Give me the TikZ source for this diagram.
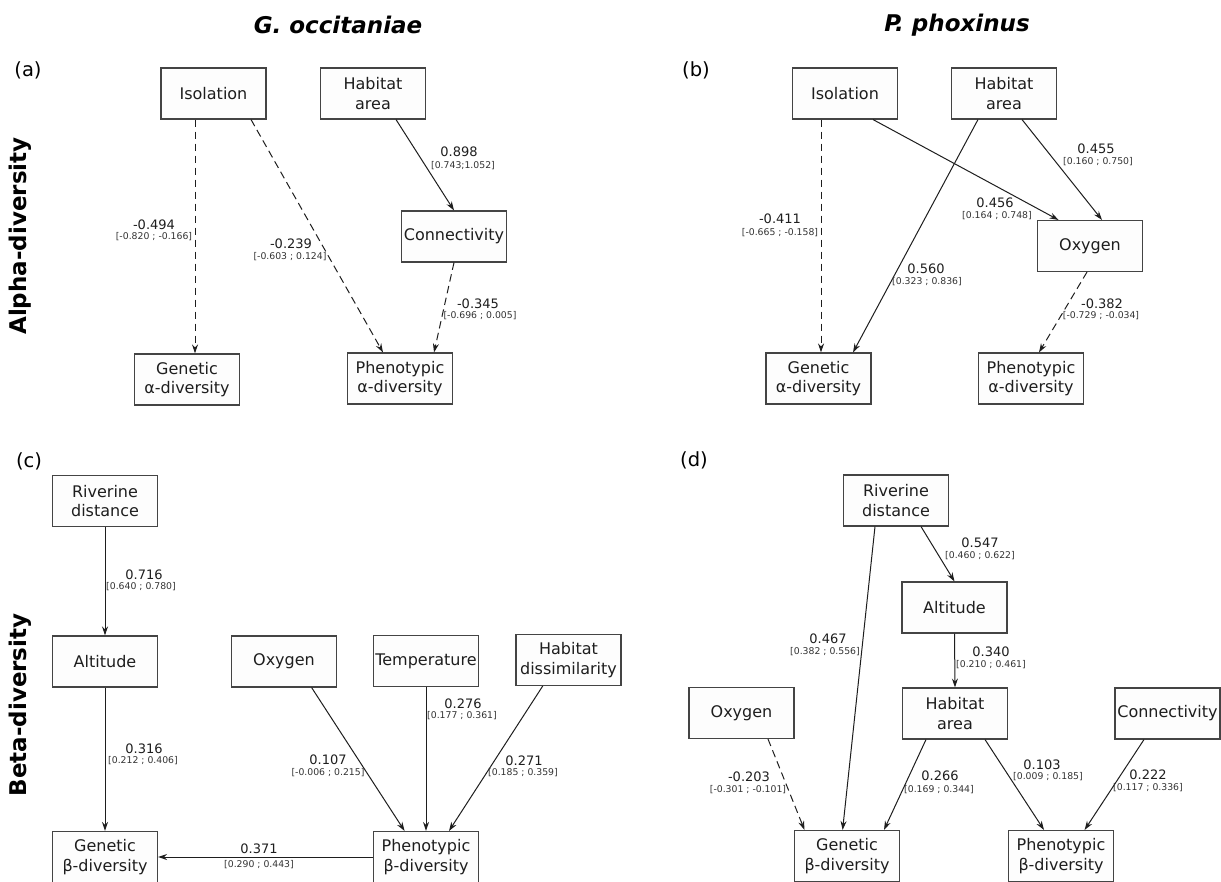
\documentclass[tikz,border=0pt]{standalone}
\usepackage{fontspec}
\setmainfont{DejaVu Sans}
\usetikzlibrary{arrows.meta}
\definecolor{ink}{HTML}{1E1E1E}
\definecolor{boxline}{HTML}{444444}
\definecolor{boxfill}{HTML}{FDFDFD}
\definecolor{cigray}{HTML}{333333}
\begin{document}
\begin{tikzpicture}[x=1pt,y=-1pt,
  box/.style={draw=boxline, line width=1.1pt, fill=boxfill, minimum width=105pt, minimum height=51pt, inner sep=0pt, align=center, font=\fontsize{16}{19.5}\selectfont, text=ink},
  coef/.style={font=\fontsize{13}{14}\selectfont, text=ink, inner sep=0pt},
  ci/.style={font=\fontsize{9.3}{10}\selectfont, text=cigray, inner sep=0pt},
  link/.style={draw=ink, line width=1pt, -{Stealth[length=9pt,width=6pt,inset=3pt]}},
  neglink/.style={link, dash pattern=on 7.5pt off 4.5pt},
  title/.style={font=\fontsize{23}{26}\selectfont\bfseries\itshape, text=black, inner sep=0pt},
  rowlab/.style={font=\fontsize{23}{26}\selectfont\bfseries, text=black, inner sep=0pt, rotate=90},
  panel/.style={font=\fontsize{19.5}{22}\selectfont, text=black, inner sep=0pt}]
\useasboundingbox (0,0) rectangle (1221,882);
\fill[white] (0,0) rectangle (1221,882);

% titles and row labels
\node[title] (t1) at (338,25) {G. occitaniae};
\node[title] (t2) at (957,25) {P. phoxinus};
\node[rowlab] (r1) at (20,236) {Alpha-diversity};
\node[rowlab] (r2) at (20,705) {Beta-diversity};
\node[panel] (pa) at (28,70) {(a)};
\node[panel] (pb) at (696,70) {(b)};
\node[panel] (pc) at (29,461) {(c)};
\node[panel] (pd) at (694,460) {(d)};

% ---------- panel (a)
\node[box] (isoA) at (213.5,93.5) {Isolation};
\node[box] (habA) at (373,93.5) {Habitat\\area};
\node[box] (conA) at (454,236.5) {Connectivity};
\node[box] (genA) at (187,379.5) {Genetic\\α-diversity};
\node[box] (phenA) at (400,378.5) {Phenotypic\\α-diversity};
\draw[neglink] ([xshift=-18.5pt]isoA.south) -- ([xshift=8pt]genA.north);
\draw[neglink] ([xshift=37.5pt]isoA.south) -- ([xshift=-17pt]phenA.north);
\draw[link] ([xshift=23pt]habA.south) -- (conA.north);
\draw[neglink] (conA.south) -- ([xshift=34pt]phenA.north);
\node[coef] (a1) at (154,225) {-0.494};
\node[ci] (a1c) at (154,237) {[-0.820 ; -0.166]};
\node[coef] (a2) at (291,244) {-0.239};
\node[ci] (a2c) at (290,257) {[-0.603 ; 0.124]};
\node[coef] (a3) at (459,152) {0.898};
\node[ci] (a3c) at (463,166) {[0.743;1.052]};
\node[coef] (a4) at (478,304) {-0.345};
\node[ci] (a4c) at (480,316) {[-0.696 ; 0.005]};

% ---------- panel (b)
\node[box] (isoB) at (845,93.5) {Isolation};
\node[box] (habB) at (1004,93.5) {Habitat\\area};
\node[box] (oxyB) at (1090,246) {Oxygen};
\node[box] (genB) at (818.5,378.5) {Genetic\\α-diversity};
\node[box] (phenB) at (1031,378.5) {Phenotypic\\α-diversity};
\draw[neglink] ([xshift=-24pt]isoB.south) -- ([xshift=2.5pt]genB.north);
\draw[link] ([xshift=28pt]isoB.south) -- ([xshift=-31.5pt]oxyB.north);
\draw[link] ([xshift=18pt]habB.south) -- ([xshift=12pt]oxyB.north);
\draw[link] ([xshift=-26pt]habB.south) -- ([xshift=34.5pt]genB.north);
\draw[neglink] ([xshift=-3pt]oxyB.south) -- ([xshift=8pt]phenB.north);
\node[coef] (b1) at (1096,149) {0.455};
\node[ci] (b1c) at (1098,162) {[0.160 ; 0.750]};
\node[coef] (b2) at (995,203) {0.456};
\node[ci] (b2c) at (997,216) {[0.164 ; 0.748]};
\node[coef] (b3) at (780,219) {-0.411};
\node[ci] (b3c) at (780,233) {[-0.665 ; -0.158]};
\node[coef] (b4) at (926,269) {0.560};
\node[ci] (b4c) at (927,282) {[0.323 ; 0.836]};
\node[coef] (b5) at (1102,304) {-0.382};
\node[ci] (b5c) at (1101,316) {[-0.729 ; -0.034]};

% ---------- panel (c)
\node[box] (rivC) at (105,501) {Riverine\\distance};
\node[box] (altC) at (105,661.5) {Altitude};
\node[box] (oxyC) at (284,661.5) {Oxygen};
\node[box] (tempC) at (426,661) {Temperature};
\node[box] (habdC) at (568.5,660) {Habitat\\dissimilarity};
\node[box] (genC) at (105,857) {Genetic\\β-diversity};
\node[box] (phenC) at (426,857) {Phenotypic\\β-diversity};
\draw[link] (rivC.south) -- (altC.north);
\draw[link] (altC.south) -- (genC.north);
\draw[link] ([xshift=27.6pt]oxyC.south) -- ([xshift=-21.4pt]phenC.north);
\draw[link] (tempC.south) -- (phenC.north);
\draw[link] ([xshift=-25.8pt]habdC.south) -- ([xshift=23pt]phenC.north);
\draw[link] (phenC.west) -- (genC.east);
\node[coef] (c1) at (144,575) {0.716};
\node[ci] (c1c) at (141,587) {[0.640 ; 0.780]};
\node[coef] (c2) at (144,749) {0.316};
\node[ci] (c2c) at (143,761) {[0.212 ; 0.406]};
\node[coef] (c3) at (328,760) {0.107};
\node[ci] (c3c) at (328,773) {[-0.006 ; 0.215]};
\node[coef] (c4) at (463,704) {0.276};
\node[ci] (c4c) at (462,716) {[0.177 ; 0.361]};
\node[coef] (c5) at (524,761) {0.271};
\node[ci] (c5c) at (523,773) {[0.185 ; 0.359]};
\node[coef] (c6) at (259,849) {0.371};
\node[ci] (c6c) at (259,865) {[0.290 ; 0.443]};

% ---------- panel (d)
\node[box] (rivD) at (896,500.5) {Riverine\\distance};
\node[box] (altD) at (954.5,607.5) {Altitude};
\node[box] (habD) at (955,713.5) {Habitat\\area};
\node[box] (oxyD) at (741.5,713) {Oxygen};
\node[box] (conD) at (1167.5,713.5) {Connectivity};
\node[box] (genD) at (847,856) {Genetic\\β-diversity};
\node[box] (phenD) at (1061,856) {Phenotypic\\β-diversity};
\draw[link] ([xshift=25pt]rivD.south) -- (altD.north);
\draw[link] ([xshift=-21pt]rivD.south) -- ([xshift=-4.4pt]genD.north);
\draw[link] (altD.south) -- (habD.north);
\draw[neglink] ([xshift=26.5pt]oxyD.south) -- ([xshift=-42.5pt]genD.north);
\draw[link] ([xshift=-29pt]habD.south) -- ([xshift=37pt]genD.north);
\draw[link] ([xshift=30pt]habD.south) -- ([xshift=-17pt]phenD.north);
\draw[link] ([xshift=-23.5pt]conD.south) -- ([xshift=23.6pt]phenD.north);
\node[coef] (d1) at (980,543) {0.547};
\node[ci] (d1c) at (980,556) {[0.460 ; 0.622]};
\node[coef] (d2) at (828,639) {0.467};
\node[ci] (d2c) at (825,652) {[0.382 ; 0.556]};
\node[coef] (d3) at (991,652) {0.340};
\node[ci] (d3c) at (991,665) {[0.210 ; 0.461]};
\node[coef] (d4) at (749,777) {-0.203};
\node[ci] (d4c) at (748,790) {[-0.301 ; -0.101]};
\node[coef] (d5) at (940,776) {0.266};
\node[ci] (d5c) at (939,790) {[0.169 ; 0.344]};
\node[coef] (d6) at (1042,765) {0.103};
\node[ci] (d6c) at (1048,777) {[0.009 ; 0.185]};
\node[coef] (d7) at (1148,775) {0.222};
\node[ci] (d7c) at (1148,788) {[0.117 ; 0.336]};
\end{tikzpicture}
\end{document}
